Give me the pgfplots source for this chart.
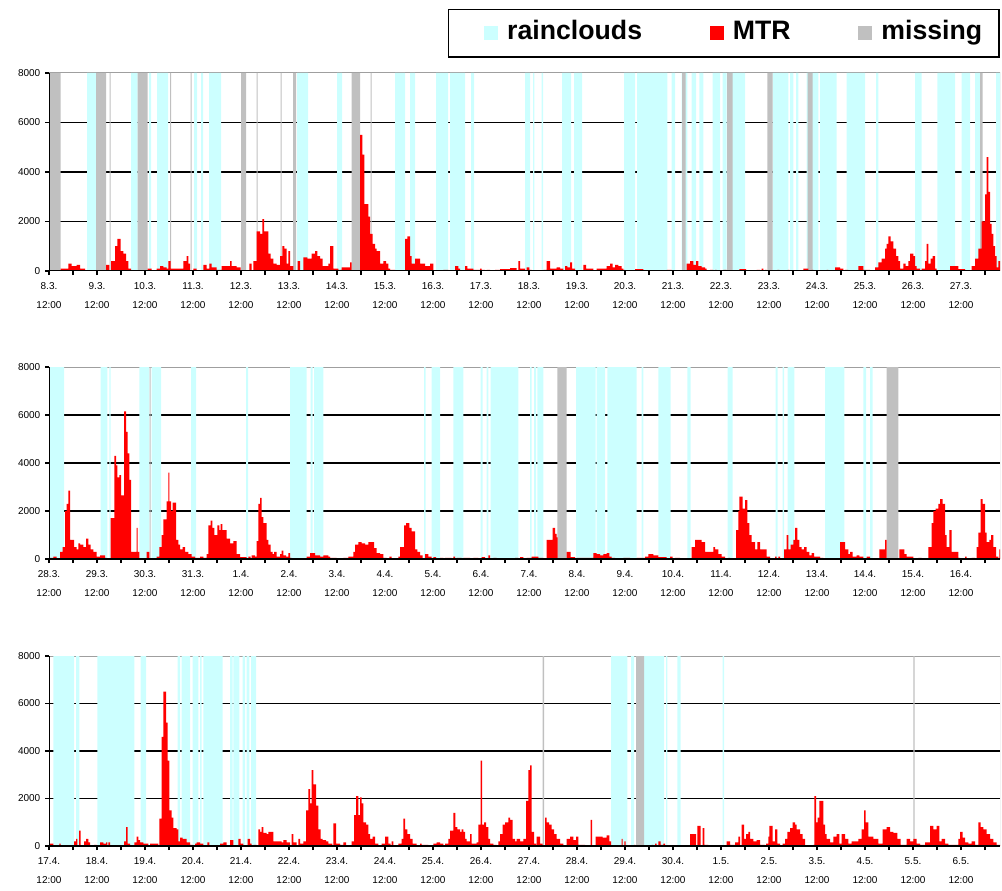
\documentclass[border=0pt]{standalone}
\usepackage{fontspec}
\setmainfont{Liberation Sans}
\usepackage{pgfplots}
\pgfplotsset{compat=1.18}
\definecolor{rain}{HTML}{CCFFFF}
\definecolor{miss}{HTML}{C0C0C0}
\definecolor{mtr}{HTML}{FF0000}
\pgfplotsset{
  panel/.style={
    scale only axis, width=713.25pt,
    anchor=south west,
    xmin=0, xmax=475.5, ymin=0, ymax=8000,
    xtick={0,24,...,456},
    minor xtick={12,36,...,468},
    ytick={0,2000,4000,6000,8000},
    yticklabels={0,2000,4000,6000,8000},
    extra y ticks={2000,4000,6000},
    extra y tick labels={},
    extra y tick style={grid=major, major tick length=0pt},
    major grid style={black, line width=1.2pt},
    xtick pos=bottom, ytick pos=left,
    tick align=outside,
    major tick length=3pt, minor tick length=3pt,
    tick style={black, line width=0.8pt},
    axis line style={draw=none},
    yticklabel style={font=\fontsize{7.5}{9}\selectfont},
    xticklabel style={font=\fontsize{7.5}{14.25}\selectfont, align=center, yshift=-2pt,
      execute at begin node={\rule{0pt}{6pt}}},
  },
  band/.style={const plot, draw=none, fill=#1, forget plot},
  legend image code/.code={\path (0pt,0pt); \fill[draw=none] (13.5pt,-5.25pt) rectangle (24pt,5.25pt);},
}
\newcommand{\greyframe}{\draw[gray!75, line width=0.75pt] (rel axis cs:0,1) -- (rel axis cs:1,1) -- (rel axis cs:1,0);}
\newcommand{\frameaxes}{\draw[black, line width=0.9pt] (rel axis cs:0,1) -- (rel axis cs:0,0) -- (rel axis cs:1,0);}
\begin{document}
\begin{tikzpicture}
\path[use as bounding box] (0,0) rectangle (751.5pt,667.5pt);
% ---------------- Panel 1 ----------------
\begin{axis}[panel, at={(36.75pt,464.25pt)}, height=148.5pt,
  xticklabels={8.3.\\12:00,9.3.\\12:00,10.3.\\12:00,11.3.\\12:00,12.3.\\12:00,13.3.\\12:00,14.3.\\12:00,15.3.\\12:00,16.3.\\12:00,17.3.\\12:00,18.3.\\12:00,19.3.\\12:00,20.3.\\12:00,21.3.\\12:00,22.3.\\12:00,23.3.\\12:00,24.3.\\12:00,25.3.\\12:00,26.3.\\12:00,27.3.\\12:00},
  legend style={at={(1.0,1.325)}, anchor=north east, legend columns=3, draw=black, line width=1.2pt,
    inner xsep=12.75pt, inner ysep=8.25pt, font=\fontsize{20}{22}\selectfont\bfseries,
    /tikz/every odd column/.append style={column sep=6.75pt},
    /tikz/every even column/.append style={column sep=36.75pt},
    nodes={inner sep=0pt, text height=14.5pt, text depth=4.5pt}},
]
\greyframe
\addplot[band=rain] coordinates {(0,0) (19,8000) (23.5,0) (41,8000) (44.3,0) (50,8000) (51,0) (54,8000) (59.5,0) (72.5,8000) (74,0) (76,8000) (77,0) (80,8000) (86,0) (124,8000) (129.5,0) (144,8000) (146.5,0) (173,8000) (178,0) (180.5,8000) (183,0) (193.5,8000) (199.5,0) (200.5,8000) (208,0) (211,8000) (212.5,0) (238,8000) (240.5,0) (242,8000) (242.7,0) (246.3,8000) (247,0) (256.5,8000) (261,0) (262.5,8000) (266.5,0) (287.5,8000) (293,0) (294,8000) (309.2,0) (311.3,8000) (313,0) (316.3,8000) (319.2,0) (321.3,8000) (323.5,0) (325.2,8000) (327.2,0) (331.8,8000) (335.5,0) (336.8,8000) (338.8,0) (339.7,8000) (348,0) (361.8,8000) (369.7,0) (370.5,8000) (372.2,0) (373.5,8000) (374.7,0) (378.8,8000) (384.7,0) (385.5,8000) (393.8,0) (398.8,8000) (408,0) (413.5,8000) (414.7,0) (433,8000) (436.3,0) (444.2,8000) (453,0) (456.3,8000) (460.5,0) (463,8000) (465.5,0) (473.5,8000) (475.5,8000)} \closedcycle;
\addplot[band=miss] coordinates {(0,0) (0.3,8000) (5.8,0) (23.5,8000) (28.5,0) (30.3,8000) (30.8,0) (44.3,8000) (49.3,0) (60.5,8000) (61,0) (70.8,8000) (71.3,0) (96,8000) (98.5,0) (103.8,8000) (104.3,0) (115.8,8000) (116.3,0) (122,8000) (123.5,0) (151.3,8000) (155.5,0) (160.8,8000) (161.3,0) (316.5,8000) (318.3,0) (339,8000) (341.8,0) (359.2,8000) (361.8,0) (379.3,8000) (381.8,0) (465.5,8000) (466.8,0) (475.5,0)} \closedcycle;
\addplot[band=mtr] coordinates {(0,0) (5.8,100) (9.7,300) (11.3,200) (13.8,250) (15.5,100) (18,0)
(28.5,250) (30.2,0) (31,400) (33,1000) (34.2,1300) (35.8,800) (37.2,700) (38.5,400) (39.7,100) (41,0)
(49.3,100) (51.3,0) (53.8,100) (55.5,200) (57.2,150) (58.8,100) (59.7,400) (60.8,100) (67.2,400) (68.8,600) (69.7,300) (70.5,0)
(72.2,100) (73.8,0) (77.2,250) (78.8,100) (80.2,300) (81.3,150) (83.8,50) (86.3,200) (90.5,400) (91.3,200) (93.8,150) (95.8,0)
(100.2,300) (101.3,0) (102.2,400) (103.8,1600) (105.5,1500) (106.7,2100) (107.5,1600) (109.7,700) (110.8,500) (112.2,300) (113.8,250) (115.5,600) (116.7,1000) (117.7,900) (118.8,300) (119.7,800) (120.5,200) (122.2,0)
(124.3,400) (125.5,0) (127.2,550) (129.2,500) (131.3,700) (133,800) (134.2,600) (135.5,500) (136.8,200) (139.7,300) (140.5,1000) (142.2,100) (144.7,50) (146.3,150) (150.5,350) (151.3,0)
(155.5,5500) (156.7,4700) (157.7,2700) (159.7,2200) (160.5,1500) (161.8,1100) (163,900) (163.8,800) (165.5,300) (167.2,400) (168.5,300) (169.7,100) (170.5,50) (173,0)
(178,1300) (179.2,1400) (180.5,600) (181.3,300) (183,500) (185.5,300) (188,200) (190.5,300) (192.2,0)
(197.2,50) (199.7,0) (203,200) (204.7,100) (205.5,0) (208,200) (209.2,100) (212.2,50) (215.5,100) (216.3,50) (218,0) (218.8,50) (220.5,0) (223,50) (225.5,80) (230.5,120) (233.8,0) (234.7,400) (235.5,100) (238,0) (238.8,150) (240.2,50) (241.3,0)
(247.2,50) (248.8,400) (250.5,100) (253.8,150) (255.5,100) (257.2,0) (258,200) (259.2,150) (260.5,350) (261.5,100) (263,0)
(267.2,250) (268.5,100) (272.2,0) (273.8,100) (278.8,200) (280.5,300) (281.8,150) (283,250) (284.7,200) (286.3,100) (287.2,50) (288,0) (293,80) (297.2,0) (308.8,50) (311.3,0)
(318.8,300) (320.5,400) (322.2,250) (323.5,400) (324.7,200) (326.3,150) (328,100) (328.8,0) (330.5,50) (332.2,0) (333,50) (333.8,0) (337.2,50) (338.8,0) (345.2,80) (348.5,0) (353.8,50) (355.5,0) (356.3,100) (357.2,0) (358,50) (358.8,0) (364.2,50) (365.2,0) (369.3,50) (370.2,0) (377.2,100) (379.7,0) (381.3,50) (382.2,0) (388.8,50) (389.7,0) (393,150) (395.5,100) (397.2,0) (398,50) (399.7,0) (404.7,200) (407.2,50) (410.5,0)
(413,150) (414.7,350) (416.3,500) (418,900) (418.8,1100) (419.7,1400) (420.8,1200) (422.2,900) (423.5,600) (424.7,400) (425.5,100) (427.2,300) (428.3,200) (429.7,400) (430.5,700) (432.2,600) (433,200) (433.8,100) (435.5,0) (436.3,100) (438,400) (438.8,1100) (439.7,300) (440.8,500) (441.8,600) (443,100) (443.8,0)
(450.5,200) (454.7,80) (458,0) (461.3,200) (463,500) (464.7,900) (466.3,2000) (468,3100) (468.8,4600) (469.7,3200) (470.5,1900) (471.3,1500) (472.2,1000) (473,600) (473.8,150) (474.7,400) (475.5,400)} \closedcycle;
\addlegendimage{fill=rain}
\addlegendentry{rainclouds}
\addlegendimage{fill=mtr}
\addlegendentry{MTR}
\addlegendimage{fill=miss}
\addlegendentry{missing}
\frameaxes
\end{axis}
% ---------------- Panel 2 ----------------
\begin{axis}[panel, at={(36.75pt,248.25pt)}, height=144pt,
  xticklabels={28.3.\\12:00,29.3.\\12:00,30.3.\\12:00,31.3.\\12:00,1.4.\\12:00,2.4.\\12:00,3.4.\\12:00,4.4.\\12:00,5.4.\\12:00,6.4.\\12:00,7.4.\\12:00,8.4.\\12:00,9.4.\\12:00,10.4.\\12:00,11.4.\\12:00,12.4.\\12:00,13.4.\\12:00,14.4.\\12:00,15.4.\\12:00,16.4.\\12:00},
]
\greyframe
\addplot[band=rain] coordinates {(0,0) (0.5,8000) (7.5,0) (25.8,8000) (29.2,0) (30.2,8000) (30.8,0) (45.2,8000) (50.2,0) (51.3,8000) (56,0) (71,8000) (73.5,0) (98.5,8000) (99.5,0) (120.5,8000) (128.8,0) (130.8,8000) (131.8,0) (132.5,8000) (137.2,0) (187.5,8000) (188.3,0) (191.3,8000) (195.5,0) (202.2,8000) (207.2,0) (215.8,8000) (216.8,0) (218.8,8000) (219.7,0) (220.8,8000) (234.7,0) (240.5,8000) (241.3,0) (242.5,8000) (243.5,0) (244.2,8000) (247.2,0) (263.5,8000) (273.3,0) (273.8,8000) (278,0) (279.2,8000) (293.8,0) (296.3,8000) (297.2,0) (304.7,8000) (310.8,0) (319.2,8000) (320.8,0) (339.3,8000) (341.8,0) (363.3,8000) (364.3,0) (366.8,8000) (367.5,0) (369.3,8000) (372.7,0) (388,8000) (397.7,0) (407.2,8000) (408.5,0) (410.5,8000) (411.8,0) (475.5,0)} \closedcycle;
\addplot[band=miss] coordinates {(0,0) (50.3,8000) (50.8,0) (254.2,8000) (258.8,0) (418.8,8000) (424.7,0) (475.5,0)} \closedcycle;
\addplot[band=mtr] coordinates {(0,0) (0.5,50) (2.2,100) (3.8,0) (5.5,300) (6.8,500) (8,2000) (8.8,2300) (9.7,2850) (10.5,800) (12.5,500) (13.8,400) (14.7,650) (15.5,600) (17.2,500) (18.5,850) (19.7,600) (20.8,400) (22.2,300) (23.8,100) (25.5,150) (28,50) (28.8,0)
(30.8,1700) (32.7,4300) (33.5,3900) (34.2,3400) (35.2,3500) (36,2650) (37.5,6150) (38.5,5300) (39.3,4400) (40.2,3300) (41,300) (43.8,1300) (44.3,300) (45.2,0)
(48.8,300) (50.2,0) (53.8,100) (55.2,500) (56.3,1000) (57.2,1650) (58.8,2400) (59.7,3600) (60.2,2400) (61,2000) (61.8,2350) (63.5,800) (64.7,600) (65.5,400) (66.8,500) (68,300) (69.7,200) (71.3,100) (73,50) (75.5,100) (77.2,50) (78.8,200) (79.7,1400) (80.8,1600) (81.7,1300) (82.7,1000) (84.2,1400) (85.2,1200) (85.8,1450) (86.7,1200) (88.8,850) (90.5,650) (92.2,750) (93.8,200) (95.5,80) (98.8,0) (99.7,100) (100.8,0) (101.3,150) (103,100) (103.8,750) (104.7,2300) (105.5,2550) (106.3,1750) (107.2,1500) (108.8,800) (109.7,600) (110.8,300) (111.8,200) (112.5,300) (113.8,100) (115.5,200) (116.3,350) (117.2,150) (118.5,100) (119.7,250) (120.5,50) (121.3,0)
(128.8,100) (130.5,250) (133,150) (135.5,100) (137.2,150) (139.7,100) (140.5,50) (143.8,30) (144.7,0) (147.2,50) (149.7,100) (152.2,300) (153,600) (154.7,700) (156.3,650) (158,600) (159.7,700) (162.5,450) (163.8,250) (165.5,200) (167.2,50) (168.8,0) (170.2,100) (171.3,0) (174.7,100) (175.5,500) (177.5,1400) (178.5,1500) (180.2,1300) (181.3,1150) (183,400) (184.2,300) (185.5,150) (186.8,0) (188,200) (189.7,100) (191.3,0) (192.2,80) (193.5,0) (195.5,50) (197.2,0) (198,50) (201.3,0) (202.2,100) (203,0) (203.8,50) (206.3,0) (207.2,50) (210.5,0) (212.2,50) (214.7,0) (216.3,80) (218,0) (219.7,150) (220.5,0) (222.2,50) (223.8,0) (225.5,30) (227.2,0) (233,50) (234.7,0) (235.5,80) (237.2,0) (238.8,50) (241.3,100) (244.7,50) (247.2,0) (248.8,800) (251.8,1300) (253,1050) (253.8,900) (254.3,0)
(258.8,300) (260.8,80) (263,0) (263.8,50) (272.2,250) (273.8,200) (275.5,150) (277.2,200) (278.8,250) (280.2,100) (281.3,50) (283,20) (285.5,0) (287.2,50) (290.5,0) (293.8,50) (298,100) (299.7,200) (302.2,150) (304.7,80) (308.8,0) (310.5,100) (311.8,0) (313,50) (315.5,0) (321.3,500) (323,800) (326.3,700) (328,300) (332.2,500) (333,400) (334.7,200) (336.3,100) (338,0) (339.7,50) (340.5,0)
(343.5,1200) (344.7,2000) (345.2,2600) (346.8,2100) (348,2450) (349.2,1500) (350.2,1000) (351.3,700) (353,400) (354.2,700) (355.5,400) (358.8,100) (360.5,0) (363,100) (363.8,0) (364.7,100) (365.5,0) (367.5,400) (368.8,1000) (369.7,400) (370.8,600) (372.2,800) (373,1300) (374.2,800) (375.2,500) (376.3,400) (377.5,500) (378.8,300) (380.2,150) (381.3,250) (382.5,100) (385.5,50) (387.2,0)
(395.5,700) (398,400) (399.7,200) (400.5,300) (401.8,100) (403.8,150) (405.2,100) (407.2,0) (408.8,100) (410.5,0) (415.2,400) (418,800) (418.8,0)
(425.2,400) (427.7,200) (428.8,100) (432.2,0) (434.7,50) (436.3,0) (439.7,500) (441.3,1500) (442.2,2000) (443.3,2100) (444.7,2300) (445.5,2500) (446.8,2300) (448,1000) (448.8,500) (450.2,1200) (451.3,300) (454.7,50) (455.5,0) (458,100) (458.8,0) (461.3,50) (463,0) (463.8,500) (464.7,1100) (465.8,2500) (466.8,2300) (468,1100) (468.8,700) (470.2,800) (471,1000) (472.2,500) (473.5,100) (474.7,0) (475.2,400) (475.5,400)} \closedcycle;
\frameaxes
\end{axis}
% ---------------- Panel 3 ----------------
\begin{axis}[panel, at={(36.75pt,33pt)}, height=142.5pt,
  xticklabels={17.4.\\12:00,18.4.\\12:00,19.4.\\12:00,20.4.\\12:00,21.4.\\12:00,22.4.\\12:00,23.4.\\12:00,24.4.\\12:00,25.4.\\12:00,26.4.\\12:00,27.4.\\12:00,28.4.\\12:00,29.4.\\12:00,30.4.\\12:00,1.5.\\12:00,2.5.\\12:00,3.5.\\12:00,4.5.\\12:00,5.5.\\12:00,6.5.\\12:00},
]
\greyframe
\addplot[band=rain] coordinates {(0,0) (2.2,8000) (12.5,0) (13.5,8000) (15.2,0) (24.2,8000) (42.7,0) (45.8,8000) (48.5,0) (64.3,8000) (65.5,0) (66.3,8000) (70.5,0) (71.8,8000) (74.7,0) (75.5,8000) (76.3,0) (77.2,8000) (86.8,0) (90.5,8000) (91.8,0) (92.2,8000) (95.2,0) (96.8,8000) (98,0) (98.8,8000) (100.2,0) (101,8000) (103.5,0) (281,8000) (289.2,0) (291,8000) (292.5,0) (297.5,8000) (307.5,0) (308.5,8000) (309.2,0) (314.2,8000) (315.8,0) (336.8,8000) (337.5,0) (475.5,0)} \closedcycle;
\addplot[band=miss] coordinates {(0,0) (246.8,8000) (247.5,0) (293.5,8000) (297.5,0) (432.2,8000) (432.8,0) (475.5,0)} \closedcycle;
\addplot[band=mtr] coordinates {(0,100) (2.2,0) (5.2,100) (5.8,0) (12.5,200) (13.5,300) (14.2,0) (15,650) (15.8,0) (17.5,200) (18.5,300) (19.7,150) (20.5,0) (22.5,50) (23.8,0) (25.5,150) (27.2,100) (28.5,150) (29.2,0) (29.7,150) (30.5,0)
(37.5,200) (38.5,800) (39.3,100) (40.5,0) (42.7,150) (43.8,400) (44.7,250) (45.5,150) (47.2,100) (49.7,0) (50.5,100) (54.7,0) (55.2,1150) (56.3,4600) (57.2,6500) (58.5,5200) (59.3,3600) (60.2,1500) (61.3,1200) (62.2,750) (63.8,700) (64.7,200) (65.5,350) (66.8,300) (68.8,150) (70.5,50) (72.2,0) (73,100) (73.8,150) (75.5,100) (77.2,0) (79.2,150) (80.2,0)
(85.5,100) (87.2,150) (88.8,0) (90.5,250) (92.2,0) (94.7,300) (95.8,100) (97.2,0) (99.3,300) (100.5,100) (101.3,0) (102.2,50) (103.8,0) (104.7,700) (105.5,600) (106.3,800) (107.2,550) (108.8,500) (109.7,600) (112.2,200) (116.3,150) (117.2,250) (118.8,150) (120.5,0) (121.3,500) (122.2,150) (123.8,0) (124.7,300) (125.5,100) (127.2,200) (128.5,1500) (129.7,2400) (130.5,1800) (131.3,3200) (132.2,2600) (133.5,1700) (134.7,700) (135.8,300) (136.8,250) (138.5,200) (139.7,100) (141.7,0) (142.2,950) (143.5,100) (145.5,50) (147.2,150)
(148.5,0) (151.3,200) (152.5,1300) (153.5,2100) (154.7,1300) (155.5,2050) (156.3,1800) (157.2,1000) (158.5,900) (159.7,500) (160.5,300) (161.8,400) (163,100) (164.7,0) (166.3,100) (168,400) (169.7,100) (170.8,0) (171.3,200) (172.2,0) (174.7,100) (176.3,300) (177.2,1150) (178,700) (179.2,500) (180.5,300) (181.8,100) (183.8,0) (185.5,100) (186.3,50) (189.7,0) (192.2,100) (193.8,150) (195.5,100) (197.2,0) (198,100) (199.7,300) (200.5,650) (202.2,1400) (203.2,800) (204.2,700) (205.5,600) (206.3,700) (207.2,600) (208,300) (208.8,200) (210.5,500) (211.3,100) (213.8,150) (214.7,900) (215.8,3600) (216.5,900) (217.5,1000) (218.5,800) (219.7,300) (220.5,100) (222.2,50) (223.8,0) (224.7,200) (225.5,500) (226.8,900) (228,1000) (229.7,1200) (230.5,1100) (231.8,300) (233,200) (233.8,300) (235.5,200) (237.2,300) (238.5,1900) (239.7,3200) (240.5,3400) (241.3,600) (242.5,100) (243.5,0) (243.8,400) (245.5,100) (246.8,0) (248,1200) (248.8,1000) (250,900) (251.3,700) (252.5,500) (253.8,300) (255.5,100) (257.2,0) (258.8,300) (260.5,400) (262.2,250) (263.5,400) (264.7,50) (268,20) (270.5,0) (270.8,1100) (271.5,20) (273,0) (273.3,400) (276.8,350) (278.8,450) (280.2,200) (281,0) (286.3,300) (286.8,0) (287.7,200) (288.3,0) (292.5,50) (293.2,0) (301.3,50) (302.2,0) (303,100) (303.8,0) (304.7,200) (305.8,50) (307.2,100) (308,30) (311.3,30) (313,0) (313.8,30) (318.8,0)
(320.5,500) (323.5,30) (324.2,850) (325.8,30) (326.8,750) (327.7,50) (329.7,0) (331.3,30) (332.5,0) (333.8,30) (336.3,0) (338.8,200) (340.5,50) (343,150) (344.7,400) (345.5,0) (346.3,900) (347.5,300) (348.5,500) (349.7,600) (350.5,300) (352.2,200) (353.8,250) (355.5,50) (358,0) (358.5,100) (359.7,400) (360.2,850) (361.8,200) (363,700) (364.2,100) (365.5,0) (366.8,100) (368,300) (369.2,600) (370.5,750) (371.8,1000) (373,900) (373.8,700) (375.5,500) (376.8,300) (378,30) (379.2,0) (382.2,50) (382.7,2100) (383.5,1000) (384.3,1200) (385.2,1900) (387.2,900) (388,500) (388.8,300) (390.5,150) (392.2,400) (393.8,500) (395.2,100) (396.3,500) (398,300) (399.7,100) (401.3,200) (404.7,300) (406.3,700) (407.5,1500) (408.3,1000) (409.7,400) (412.2,300) (414.7,100) (416.8,700) (418.8,800) (420.5,600) (422.2,550) (424.2,300) (425.8,50) (428.8,300) (430.5,200) (432.2,300) (433.8,100) (435.5,50) (438,150) (440.5,850) (442.2,700) (443.8,850) (445.2,200) (446.3,300) (448,100) (449.7,50) (454.7,300) (455.5,600) (456.8,350) (458,150) (459.7,100) (461.3,200) (463,50) (464.7,1000) (465.8,800) (467.2,700) (468.8,500) (470.5,300) (472.2,150) (473.8,50) (475.5,50)} \closedcycle;
\frameaxes
\end{axis}
\end{tikzpicture}
\end{document}
